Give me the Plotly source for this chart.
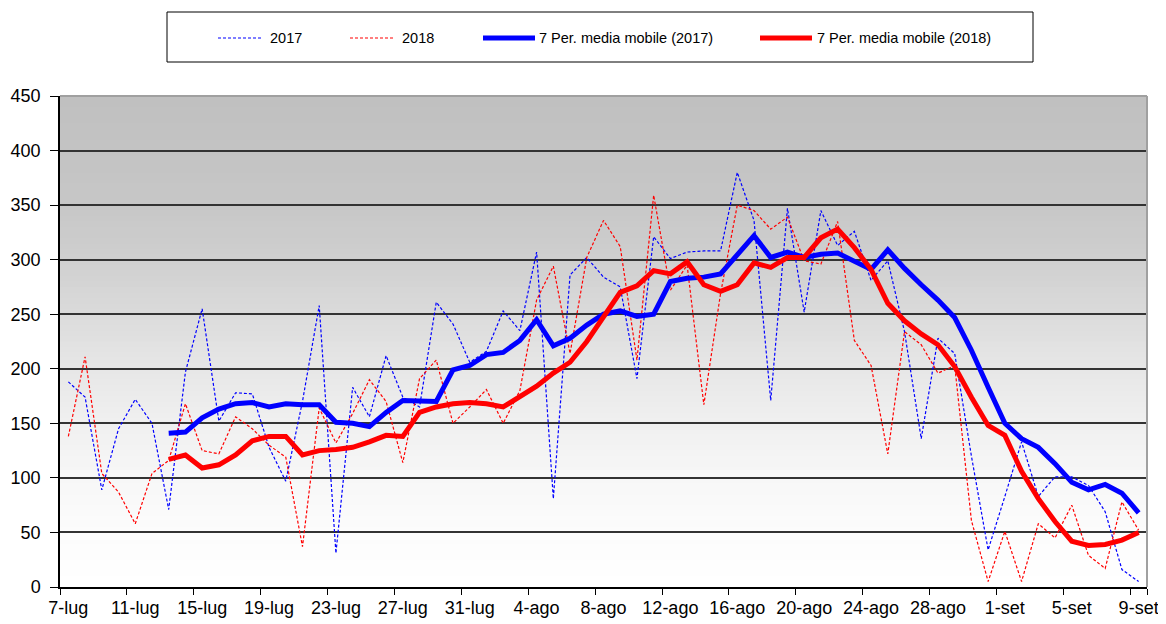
import plotly.graph_objects as go

# ---- data ----
days = ([f"{d}-lug" for d in range(7, 32)] +
        [f"{d}-ago" for d in range(1, 32)] +
        [f"{d}-set" for d in range(1, 10)])

tick_labels = ["7-lug", "11-lug", "15-lug", "19-lug", "23-lug", "27-lug", "31-lug",
               "4-ago", "8-ago", "12-ago", "16-ago", "20-ago", "24-ago", "28-ago",
               "1-set", "5-set", "9-set"]

v2017 = [188, 174, 89, 145, 172, 150, 71, 197, 255, 152, 178, 177, 128, 97, 170, 258,
         31, 183, 156, 212, 174, 165, 261, 241, 206, 216, 253, 235, 307, 81, 286, 302,
         284, 275, 191, 321, 301, 307, 308, 308, 380, 336, 171, 347, 252, 345, 313, 326,
         281, 299, 234, 136, 228, 214, 120, 34, 83, 133, 83, 101, 101, 93, 69, 16, 5]

v2018 = [138, 211, 104, 87, 58, 104, 116, 168, 125, 122, 156, 145, 130, 119, 37, 164,
         132, 159, 190, 170, 114, 191, 208, 150, 165, 181, 150, 180, 263, 294, 214, 302,
         336, 312, 208, 359, 272, 295, 167, 269, 350, 345, 328, 339, 299, 296, 335, 226,
         203, 122, 234, 222, 196, 203, 61, 5, 51, 5, 58, 45, 75, 29, 17, 78, 52]

ma2017 = [None] * 6 + [141, 142, 155, 163, 168, 169, 165, 168, 167, 167, 151, 150, 147,
                       160, 171, 170, 170, 199, 203, 213, 215, 226, 245, 221, 228, 240,
                       250, 253, 248, 250, 280, 283, 284, 287, 305, 322, 302, 307, 302,
                       305, 306, 298, 291, 309, 292, 277, 263, 247, 217, 183, 150, 136,
                       128, 113, 96, 89, 94, 86, 68]

ma2018 = [None] * 6 + [117, 121, 109, 112, 121, 134, 138, 138, 121, 125, 126, 128, 133,
                       139, 138, 160, 165, 168, 169, 168, 165, 175, 184, 196, 206, 225,
                       247, 270, 276, 290, 287, 298, 277, 271, 277, 297, 293, 302, 302,
                       320, 328, 311, 291, 260, 244, 232, 222, 202, 174, 148, 139, 106,
                       81, 60, 42, 38, 39, 43, 50]

names = ["2017", "2018", "7 Per. media mobile (2017)", "7 Per. media mobile (2018)"]

# ---- layout constants (page has an 8px body margin) ----
OFF = 8
W, H = 1166 - OFF, 624 - OFF
PLOT_L, PLOT_R, PLOT_T, PLOT_B = 60, 1147, 96, 587   # target page pixels
ML, MT = PLOT_L - OFF, PLOT_T - OFF
MR, MB = W - (PLOT_R - OFF), H - (PLOT_B - OFF)
PW, PH = W - ML - MR, H - MT - MB
FONT = "Arial, Liberation Sans, sans-serif"
BLUE, RED = "#0000FF", "#FF0000"


def px_x(px):
    return (px - PLOT_L) / PW


def px_y(py):
    return (PLOT_B - py) / PH


fig = go.Figure()
fig.add_trace(go.Scatter(x=days, y=v2017, mode="lines", name=names[0],
                         line=dict(color=BLUE, width=1.2, dash="3px,2px")))
fig.add_trace(go.Scatter(x=days, y=v2018, mode="lines", name=names[1],
                         line=dict(color=RED, width=1.2, dash="3px,2px")))
fig.add_trace(go.Scatter(x=days, y=ma2017, mode="lines", name=names[2],
                         line=dict(color=BLUE, width=5)))
fig.add_trace(go.Scatter(x=days, y=ma2018, mode="lines", name=names[3],
                         line=dict(color=RED, width=5)))

shapes = []
# gradient background (grey at top to white at bottom), overlapping bands
stops = [(0, 255), (50, 252), (100, 247), (150, 240), (200, 231), (250, 219),
         (300, 207), (350, 199), (400, 195), (450, 192)]
step = 5
for lo in range(0, 450, step):
    mid = lo + step / 2
    for (a, ca), (b, cb) in zip(stops[:-1], stops[1:]):
        if a <= mid <= b:
            g = round(ca + (cb - ca) * (mid - a) / (b - a))
            break
    shapes.append(dict(type="rect", xref="paper", yref="y", x0=0, x1=1,
                       y0=lo, y1=min(lo + step * 2, 450),
                       fillcolor=f"rgb({g},{g},{g})", line=dict(width=0), layer="below"))
# top and right border of plot area
shapes.append(dict(type="line", xref="paper", yref="paper", x0=0, x1=1, y0=1, y1=1,
                   line=dict(color="#A0A0A0", width=2), layer="above"))
shapes.append(dict(type="line", xref="paper", yref="paper", x0=1, x1=1, y0=0, y1=1,
                   line=dict(color="#A0A0A0", width=2), layer="above"))

# manual legend
shapes.append(dict(type="rect", xref="paper", yref="paper",
                   x0=px_x(167), x1=px_x(1033), y0=px_y(62), y1=px_y(12),
                   line=dict(color="black", width=1), fillcolor="white"))
leg_y = px_y(38)
legend_items = [(218, 262, 268, BLUE, 1.2, "3px,2px", names[0]),
                (350, 395, 400, RED, 1.2, "3px,2px", names[1]),
                (483, 535, 537, BLUE, 5, "solid", names[2]),
                (760, 812, 815, RED, 5, "solid", names[3])]
annotations = []
for x0, x1, xt, col, w, dash, txt in legend_items:
    shapes.append(dict(type="line", xref="paper", yref="paper", x0=px_x(x0), x1=px_x(x1),
                       y0=leg_y, y1=leg_y, line=dict(color=col, width=w, dash=dash)))
    annotations.append(dict(xref="paper", yref="paper", x=px_x(xt), y=leg_y, text=txt,
                            showarrow=False, xanchor="left", yanchor="middle",
                            font=dict(family=FONT, size=14.5, color="black")))

fig.update_layout(
    width=W, height=H,
    margin=dict(l=ML, r=MR, t=MT, b=MB, autoexpand=False),
    paper_bgcolor="white", plot_bgcolor="white",
    showlegend=False,
    shapes=shapes, annotations=annotations,
    font=dict(family=FONT, size=18, color="black"),
)
fig.update_xaxes(type="category", categoryorder="array", categoryarray=days,
                 range=[-0.5, len(days) - 0.5], automargin=False,
                 tickmode="array", tickvals=tick_labels, ticktext=tick_labels,
                 tickangle=0, ticklabelstandoff=4,
                 tickson="boundaries", ticks="outside", ticklen=6, tickcolor="black",
                 showgrid=False, showline=True, linecolor="black", linewidth=1.5,
                 tickfont=dict(family=FONT, size=18, color="black"))
fig.update_yaxes(range=[0, 450], dtick=50, tick0=0, automargin=False,
                 ticks="outside", ticklen=8, tickcolor="black", ticklabelstandoff=6,
                 showgrid=True, gridcolor="#333333", gridwidth=1.5,
                 zeroline=False, showline=True, linecolor="black", linewidth=1.5,
                 tickfont=dict(family=FONT, size=18, color="black"))

fig.write_html("out.html")
